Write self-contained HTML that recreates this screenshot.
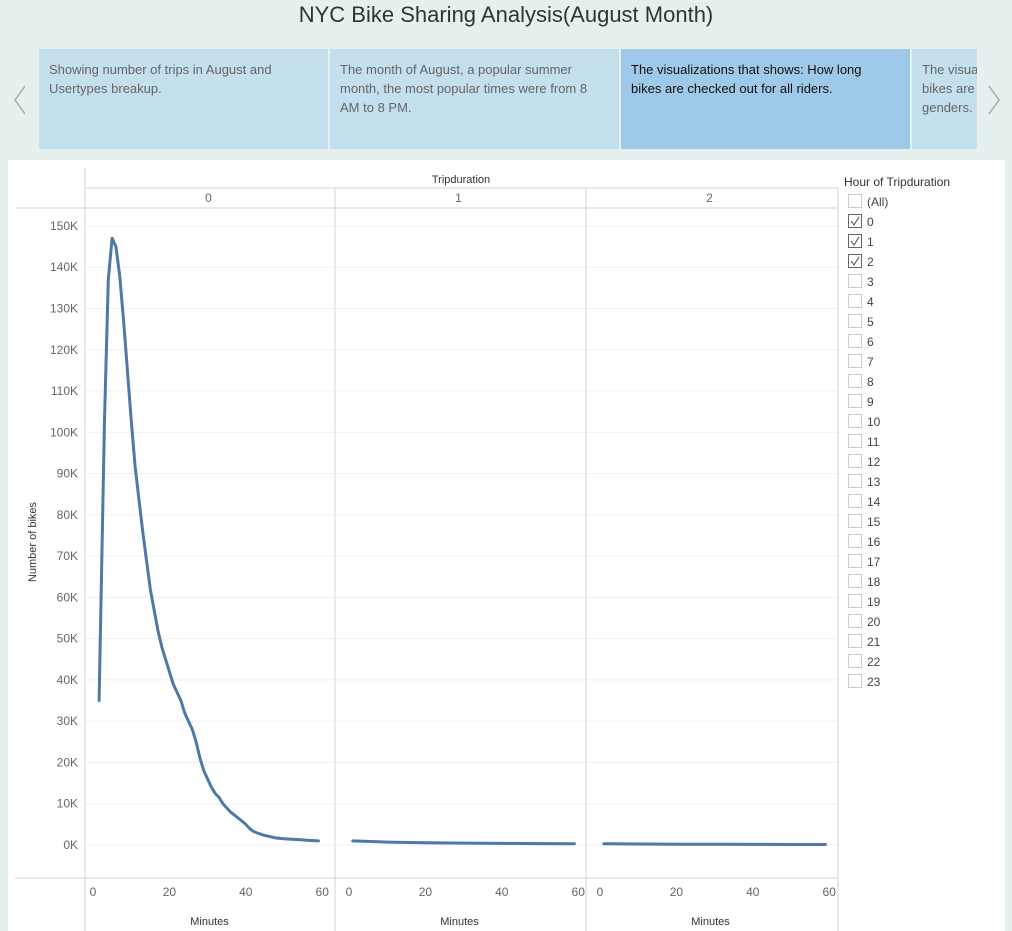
<!DOCTYPE html>
<html><head><meta charset="utf-8"><style>
body{margin:0;width:1012px;height:931px;background:#e6f0ef;font-family:"Liberation Sans",sans-serif;overflow:hidden;position:relative}
.card{position:absolute;top:49px;height:100px;background:#c4dfee;color:#666;font-size:13px;line-height:19px;padding:11px 22px 11px 10px;box-sizing:border-box;overflow:hidden}
svg text{font-family:"Liberation Sans",sans-serif}
</style></head><body>
<div style="position:absolute;top:2px;left:0;width:1012px;text-align:center;font-size:22px;color:#333">NYC Bike Sharing Analysis(August Month)</div>
<svg style="position:absolute;left:12px;top:84px" width="16" height="32"><path d="M13,2 L3,16 L13,30" fill="none" stroke="#aaa" stroke-width="1.5"/></svg>
<svg style="position:absolute;left:986px;top:84px" width="16" height="32"><path d="M3,2 L13,16 L3,30" fill="none" stroke="#aaa" stroke-width="1.5"/></svg>
<div class="card" style="left:39px;width:289px">Showing number of trips in August and Usertypes breakup.</div>
<div class="card" style="left:330px;width:289px">The month of August, a popular summer month, the most popular times were from 8 AM to 8 PM.</div>
<div class="card" style="left:621px;width:289px;background:#9fc9e8;color:#111">The visualizations that shows: How long bikes are checked out for all riders.</div>
<div class="card" style="left:912px;width:65px;white-space:nowrap;padding-right:0">The visualizations<br>bikes are<br>genders.</div>
<svg style="position:absolute;left:0;top:0" width="1012" height="931">
<rect x="8" y="160" width="997" height="771" fill="#fff"/>
<g id="chart"></g>
</svg>
<script>
const panels=["0","1","2"];
const xTicks=[0,20,40,60];
const yTicks=[0,10,20,30,40,50,60,70,80,90,100,110,120,130,140,150];
const minutes0=[1.6,3,4,5,6,7,8,9,10,11,12,13,14,15,16,17,18,19,20,21,22,23,24,25,26,27,28,29,30,31,32,33,34,35,36,37,38,39,40,41,42,43,44,45,46,47,48,49,50,52,54,56,59];
const values0=[35,103,137,147,145,138,127,115,103,92,84,76,69,62,57,52,48,45,42,39,37,35,32,30,28,25,21,18,16,14,12.5,11.5,10,9,8,7.3,6.5,5.8,5,4,3.3,2.9,2.6,2.3,2.1,1.9,1.7,1.6,1.5,1.4,1.3,1.15,1.0];
const minutes1=[1,10,20,30,40,50,59];
const values1=[1.0,0.7,0.55,0.45,0.38,0.33,0.3];
const minutes2=[1,10,20,30,40,50,59];
const values2=[0.3,0.25,0.2,0.17,0.15,0.13,0.12];
const legendItems=["(All)","0","1","2","3","4","5","6","7","8","9","10","11","12","13","14","15","16","17","18","19","20","21","22","23"];
const checked=["0","1","2"];
const series=[[minutes0,values0],[minutes1,values1],[minutes2,values2]];
const panelX0=[93,349,600], panelLeft=[85,335,586], pw=251, mpx=3.82;
const yScale=v=>845-v*4.127;
const xScale=(p,m)=>panelX0[p]+m*mpx;
const NS="http://www.w3.org/2000/svg";
const g=document.getElementById('chart');
function mk(t,a,txt){const e=document.createElementNS(NS,t);for(const k in a)e.setAttribute(k,a[k]);if(txt!==undefined)e.textContent=txt;g.appendChild(e);return e;}
yTicks.forEach(v=>{
 const l=mk('line',{x1:85,x2:838,y1:yScale(v),y2:yScale(v),stroke:'#f0f0f0'});
 
 
 const t=mk('text',{x:78,y:yScale(v)+4,'text-anchor':'end','font-size':12,fill:'#666'},v+'K');
 
 
});
mk('line',{x1:85,x2:85,y1:168,y2:931,stroke:'#d4d4d4'});
[335,586,838].forEach(x=>mk('line',{x1:x,x2:x,y1:188,y2:931,stroke:'#d4d4d4'}));
mk('line',{x1:85,x2:838,y1:188,y2:188,stroke:'#d4d4d4'});
mk('line',{x1:15,x2:838,y1:208,y2:208,stroke:'#d4d4d4'});
mk('line',{x1:15,x2:838,y1:878,y2:878,stroke:'#d4d4d4'});
const ht=mk('text',{x:461,y:183,'text-anchor':'middle','font-size':11,fill:'#333'},'Tripduration');


const yt=mk('text',{x:36,y:542,'text-anchor':'middle','font-size':11,fill:'#333',transform:'rotate(-90 36 542)'},'Number of bikes');


panels.forEach((p,i)=>{
 const ph=mk('text',{x:panelLeft[i]+pw/2-2,y:202,'text-anchor':'middle','font-size':12,fill:'#666'},p);
 
 
 xTicks.forEach(m=>{
  const t=mk('text',{x:xScale(i,m),y:896,'text-anchor':'middle','font-size':12,fill:'#666'},m);
  
  
 });
 const xt=mk('text',{x:panelLeft[i]+pw/2-1,y:925,'text-anchor':'middle','font-size':11,fill:'#333'},'Minutes');
 
 
 const [ms,vs]=series[i];
 const d=ms.map((m,j)=>(j?'L':'M')+xScale(i,m).toFixed(1)+','+yScale(vs[j]).toFixed(1)).join(' ');
 const path=mk('path',{d:d,fill:'none',stroke:'#4e79a7','stroke-width':3,'stroke-linejoin':'round','stroke-linecap':'round'});
 
 
});
const lt=mk('text',{x:844,y:186,'font-size':12,fill:'#333'},'Hour of Tripduration');


legendItems.forEach((it,i)=>{
 const y=194+i*20;
 const b=mk('rect',{x:848.5,y:y+0.5,width:13,height:13,fill:'#fff',stroke:checked.includes(it)?'#666':'#ccc'});
 
 
 if(checked.includes(it)){mk('path',{d:`M${851},${y+7} L${854},${y+11} L${859},${y+3}`,fill:'none',stroke:'#666','stroke-width':1.2});}
 const t=mk('text',{x:867,y:y+12,'font-size':12,fill:'#444'},it);
 
 
});
</script>
</body></html>
